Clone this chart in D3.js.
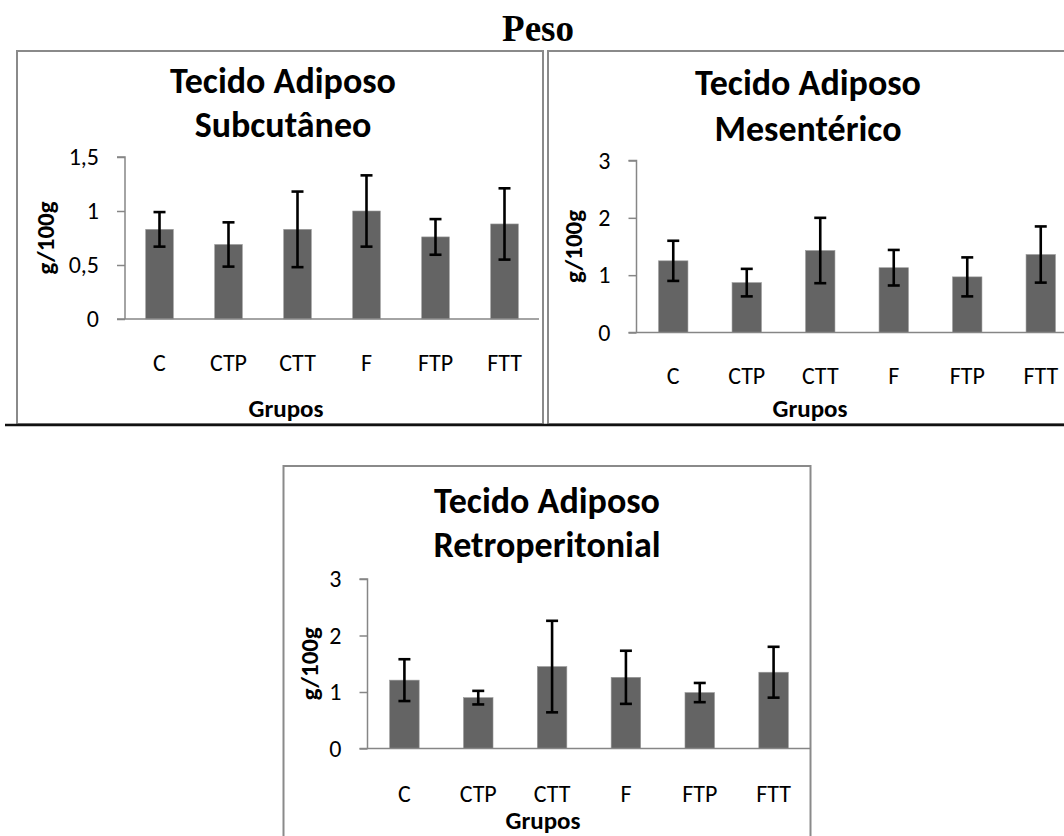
<!DOCTYPE html>
<html>
<head>
<meta charset="utf-8">
<script src="https://cdn.jsdelivr.net/npm/d3@7"></script>
<style>
  html, body { margin: 0; padding: 0; background: #fff; }
  svg { display: block; }
</style>
</head>
<body>
<svg id="chart" width="1064" height="836"></svg>
<script>
// Groups on the horizontal axis
const categories = ["C", "CTP", "CTT", "F", "FTP", "FTT"];

// Subcutaneous adipose tissue (g/100g): mean and error
const subcutaneoMeans  = [0.83, 0.69, 0.83, 1.00, 0.76, 0.88];
const subcutaneoErrors = [0.16, 0.205, 0.35, 0.33, 0.165, 0.33];

// Mesenteric adipose tissue (g/100g)
const mesentericoMeans  = [1.25, 0.87, 1.43, 1.13, 0.97, 1.36];
const mesentericoErrors = [0.35, 0.24, 0.57, 0.31, 0.34, 0.49];

// Retroperitoneal adipose tissue (g/100g)
const retroMeans  = [1.21, 0.90, 1.45, 1.26, 0.99, 1.35];
const retroErrors = [0.37, 0.12, 0.81, 0.47, 0.17, 0.45];

// Axis tick values
const subcutaneoTicks = [0, 0.5, 1, 1.5];
const gramTicks = [0, 1, 2, 3];

const titleText = "Peso";
const yAxisTitle = "g/100g";
const xAxisTitle = "Grupos";

const svg = d3.select("#chart");
const FONT = "Carlito, Calibri, Lato, 'Open Sans', sans-serif";
const fmt = d => String(d).replace(".", ",");

// Overall heading
svg.append("text")
  .attr("x", 538).attr("y", 41)
  .attr("text-anchor", "middle")
  .style("font-family", "'Liberation Serif', 'Times New Roman', serif")
  .style("font-weight", "bold")
  .style("font-size", "37px")
  .text(titleText);

// Layout of the three chart boxes
const panels = [
  {
    title: ["Tecido Adiposo", "Subcutâneo"], means: subcutaneoMeans, errors: subcutaneoErrors,
    ticks: subcutaneoTicks, max: 1.5,
    box: [17, 51, 543, 424], plot: [125, 157, 539, 319],
    titleX: 283, titleY: [93, 137], yLabelX: 45, xLabelDy: 43, groupsX: 286, groupsY: 408
  },
  {
    title: ["Tecido Adiposo", "Mesentérico"], means: mesentericoMeans, errors: mesentericoErrors,
    ticks: gramTicks, max: 3,
    box: [548, 51, 1070, 424], plot: [636.5, 160.5, 1077.5, 332.5],
    titleX: 808, titleY: [95, 141], yLabelX: 573, xLabelDy: 42.5, groupsX: 810, groupsY: 408
  },
  {
    title: ["Tecido Adiposo", "Retroperitonial"], means: retroMeans, errors: retroErrors,
    ticks: gramTicks, max: 3,
    box: [283.5, 466, 810.5, 860], plot: [367.5, 579, 810.5, 748.5],
    titleX: 547, titleY: [513, 557], yLabelX: 309, xLabelDy: 44, groupsX: 543, groupsY: 820
  }
];

panels.forEach(p => {
  const g = svg.append("g");
  const [bx0, by0, bx1, by1] = p.box;
  g.append("rect")
    .attr("x", bx0).attr("y", by0)
    .attr("width", bx1 - bx0).attr("height", by1 - by0)
    .attr("fill", "#fff").attr("stroke", "#8a8a8a").attr("stroke-width", 2);

  const [px0, py0, px1, py1] = p.plot;
  const x = d3.scaleBand().domain(categories).range([px0, px1])
    .paddingInner(0.6).paddingOuter(0.3);
  const y = d3.scaleLinear().domain([0, p.max]).range([py1, py0]);

  // Chart title (two lines)
  p.title.forEach((line, i) => {
    g.append("text")
      .attr("x", p.titleX).attr("y", p.titleY[i])
      .attr("text-anchor", "middle")
      .style("font-family", FONT).style("font-weight", "bold").style("font-size", "36px")
      .attr("fill", "#000")
      .text(line);
  });

  // Vertical axis
  const yAxis = g.append("g")
    .attr("transform", `translate(${px0},0)`)
    .call(d3.axisLeft(y).tickValues(p.ticks).tickFormat(fmt).tickSize(8).tickPadding(18));
  yAxis.selectAll(".tick line").attr("stroke", "#868686").attr("stroke-width", 1.5);
  yAxis.selectAll(".tick text")
    .style("font-family", FONT).style("font-size", "24px").attr("fill", "#000");
  yAxis.select(".domain").attr("d", `M-8,${py0}H0V${py1}`)
    .attr("stroke", "#868686").attr("stroke-width", 1.5);

  // Bars
  g.selectAll("rect.bar")
    .data(p.means)
    .join("rect")
    .attr("class", "bar")
    .attr("x", (d, i) => x(categories[i]))
    .attr("y", d => y(d))
    .attr("width", x.bandwidth())
    .attr("height", d => y(0) - y(d))
    .attr("fill", "#646464")
    .attr("stroke", "#9a9a9a").attr("stroke-width", 0.6);

  // Horizontal axis
  const xAxis = g.append("g")
    .attr("transform", `translate(0,${py1})`)
    .call(d3.axisBottom(x).tickSize(0).tickPadding(p.xLabelDy - 8));
  xAxis.select(".domain").attr("d", `M${px0 - 8},0H${px1}`)
    .attr("stroke", "#868686").attr("stroke-width", 1.5);
  xAxis.selectAll(".tick text")
    .style("font-family", FONT).style("font-size", "24px").attr("fill", "#000");

  // Error bars
  const capHalf = 6;
  const eb = g.selectAll("g.err")
    .data(p.means.map((m, i) => ({ m, e: p.errors[i], c: categories[i] })))
    .join("g").attr("class", "err")
    .attr("transform", d => `translate(${x(d.c) + x.bandwidth() / 2},0)`);
  eb.append("line")
    .attr("x1", 0).attr("x2", 0)
    .attr("y1", d => y(d.m + d.e)).attr("y2", d => y(d.m - d.e))
    .attr("stroke", "#000").attr("stroke-width", 2.6);
  eb.append("line")
    .attr("x1", -capHalf).attr("x2", capHalf)
    .attr("y1", d => y(d.m + d.e)).attr("y2", d => y(d.m + d.e))
    .attr("stroke", "#000").attr("stroke-width", 2.6);
  eb.append("line")
    .attr("x1", -capHalf).attr("x2", capHalf)
    .attr("y1", d => y(d.m - d.e)).attr("y2", d => y(d.m - d.e))
    .attr("stroke", "#000").attr("stroke-width", 2.6);

  // Axis titles
  g.append("text")
    .attr("transform", `translate(${p.yLabelX},${(py0 + py1) / 2}) rotate(-90)`)
    .attr("text-anchor", "middle").attr("dy", "0.35em")
    .style("font-family", FONT).style("font-weight", "bold").style("font-size", "25px")
    .text(yAxisTitle);
  g.append("text")
    .attr("x", p.groupsX).attr("y", p.groupsY)
    .attr("text-anchor", "middle").attr("dy", "0.35em")
    .style("font-family", FONT).style("font-weight", "bold").style("font-size", "25px")
    .text(xAxisTitle);
});

// Rule under the two upper charts
svg.append("line")
  .attr("x1", 5).attr("x2", 1064).attr("y1", 425).attr("y2", 425)
  .attr("stroke", "#111").attr("stroke-width", 2.5);
</script>
</body>
</html>
